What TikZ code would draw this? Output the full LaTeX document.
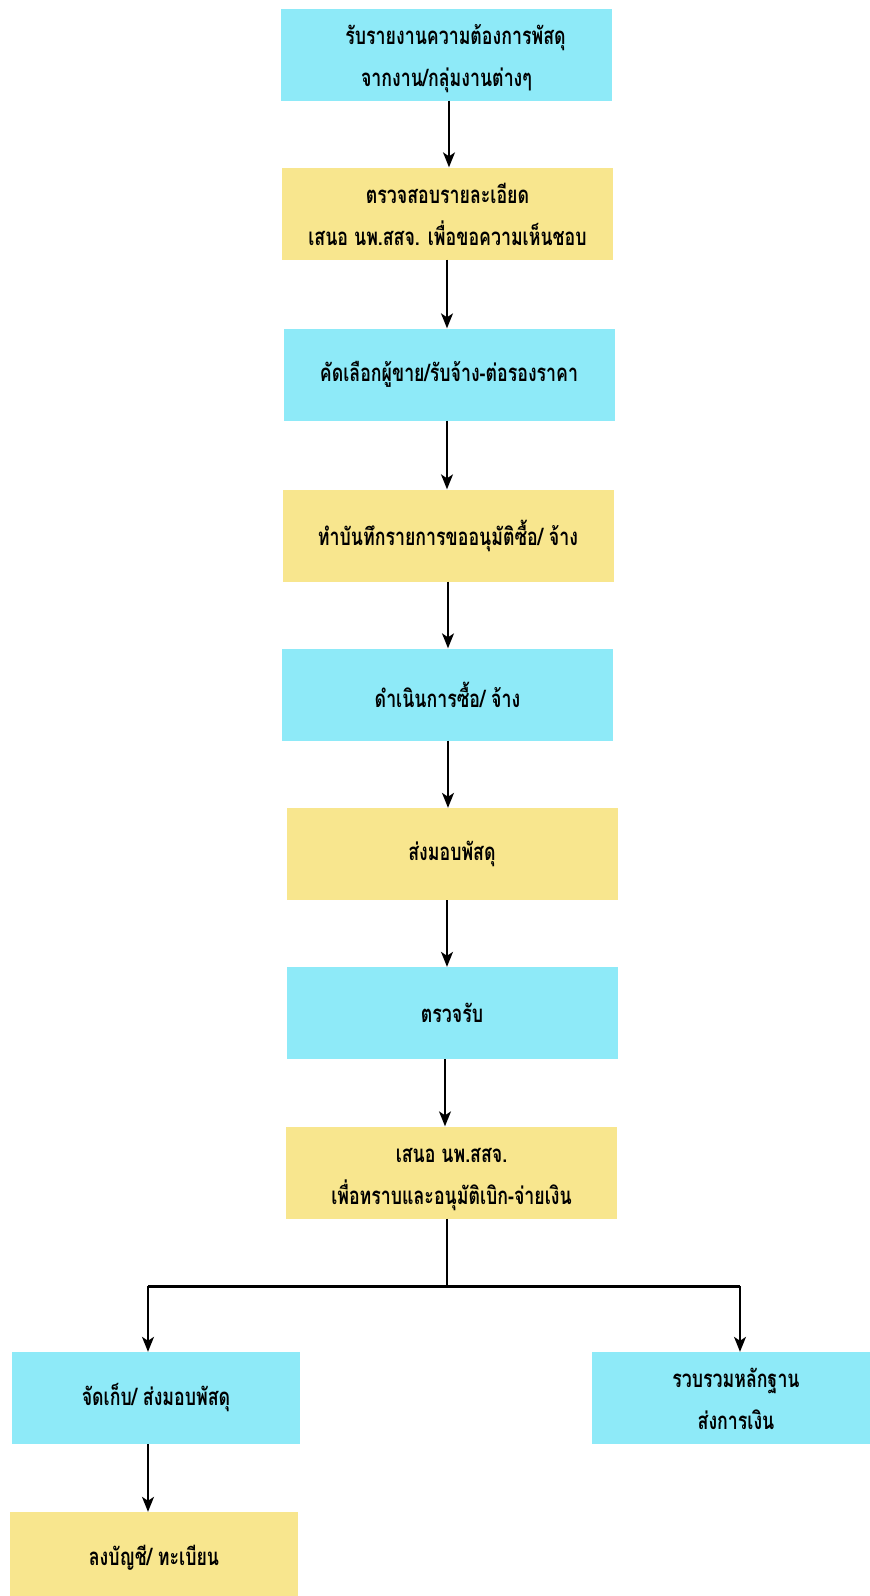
\documentclass[tikz,border=0pt]{standalone}
\usepackage{fontspec}
\newfontfamily\thaifont[Script=Thai,FakeStretch=0.74]{Loma}
\usetikzlibrary{arrows.meta}
\definecolor{boxcyan}{HTML}{8EEAF8}
\definecolor{boxyellow}{HTML}{F8E68E}
\begin{document}
\begin{tikzpicture}[x=1pt,y=-1pt,
  box/.style={minimum width=331pt,minimum height=92pt,inner sep=0pt,align=center,
    font=\thaifont\bfseries\fontsize{24}{42}\selectfont},
  two/.style={text height=63pt,text depth=0pt},
  cy/.style={box,fill=boxcyan},
  ye/.style={box,fill=boxyellow},
  arr/.style={-{Stealth[length=15pt,width=12pt,inset=4pt]},line width=1.5pt},
  bar/.style={line width=3pt}]
\useasboundingbox (0,0) rectangle (870,1596);
\node[cy,two] (b1) at (446.5,54.5) {\hspace*{18pt}รับรายงานความต้องการพัสดุ\\จากงาน/กลุ่มงานต่างๆ};
\node[ye,two] (b2) at (447.5,213.5) {ตรวจสอบรายละเอียด\\เสนอ นพ.สสจ. เพื่อขอความเห็นชอบ};
\node[cy] (b3) at (449,374.5) {คัดเลือกผู้ขาย/รับจ้าง-ต่อรองราคา};
\node[ye] (b4) at (448,535.5) {ทำบันทึกรายการขออนุมัติซื้อ/ จ้าง};
\node[cy] (b5) at (447.5,694.5) {ดำเนินการซื้อ/ จ้าง};
\node[ye] (b6) at (452,854) {ส่งมอบพัสดุ};
\node[cy] (b7) at (452,1013) {ตรวจรับ};
\node[ye,two] (b8) at (451.5,1172.5) {เสนอ นพ.สสจ.\\เพื่อทราบและอนุมัติเบิก-จ่ายเงิน};
\node[cy,minimum width=288pt] (b9) at (156,1398) {จัดเก็บ/ ส่งมอบพัสดุ};
\node[ye,minimum width=288pt] (b10) at (154,1558) {ลงบัญชี/ ทะเบียน};
\node[cy,two,minimum width=288pt] (b11) at (736,1398) {รวบรวมหลักฐาน\\ส่งการเงิน};
\coordinate (s1) at (449,0);
\coordinate (s2) at (447,0);
\coordinate (s3) at (448,0);
\coordinate (s4) at (445,0);
\coordinate (jn) at (447,1286);
\coordinate (jl) at (148,1286);
\coordinate (jr) at (740,1286);
\draw[arr] (s1 |- b1.south) -- (s1 |- b2.north);
\draw[arr] (s2 |- b2.south) -- (s2 |- b3.north);
\draw[arr] (s2 |- b3.south) -- (s2 |- b4.north);
\draw[arr] (s3 |- b4.south) -- (s3 |- b5.north);
\draw[arr] (s3 |- b5.south) -- (s3 |- b6.north);
\draw[arr] (s2 |- b6.south) -- (s2 |- b7.north);
\draw[arr] (s4 |- b7.south) -- (s4 |- b8.north);
\draw[line width=1.5pt] (jn |- b8.south) -- (jn);
\draw[bar] (jl) -- (jr);
\draw[arr] (jl) -- (jl |- b9.north);
\draw[arr] (jr) -- (jr |- b11.north);
\draw[arr] (jl |- b9.south) -- (jl |- b10.north);
\end{tikzpicture}
\end{document}
